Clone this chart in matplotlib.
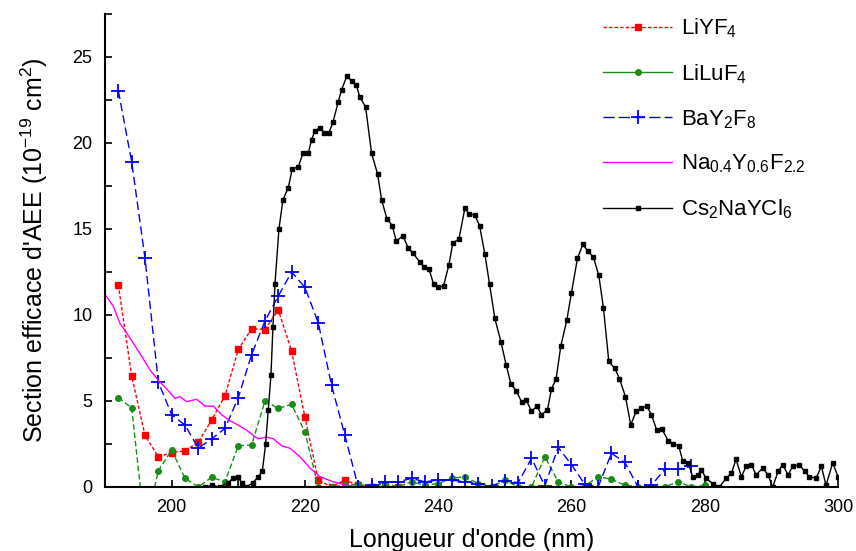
import numpy as np
import matplotlib
matplotlib.use("Agg")
import matplotlib.pyplot as plt
from matplotlib.ticker import MultipleLocator

plt.rcParams['font.family'] = ['Liberation Sans', 'DejaVu Sans']
plt.rcParams['mathtext.fontset'] = 'custom'
plt.rcParams['mathtext.rm'] = 'Liberation Sans'
plt.rcParams['mathtext.it'] = 'Liberation Sans'

# LiYF4 (red, squares)
liyf_x = [192, 194, 196, 198, 200, 202, 204, 206, 208, 210, 212, 214, 216, 218,
          220, 222, 224, 226, 228, 230, 232, 234]
liyf_y = [11.74, 6.45, 3.0, 1.76, 2.0, 2.1, 2.6, 3.9, 5.3, 8.0, 9.2, 9.15, 10.3, 7.9,
          4.05, 0.4, 0.0, 0.4, 0.1, 0.0, 0.05, 0.0]

# LiLuF4 (green, circles)
lilu_x = [192, 194, 196, 198, 200, 202, 204, 206, 208, 210, 212, 214, 216, 218,
          220, 222, 224, 226, 228, 230, 232, 234, 236, 238, 240, 242, 244, 246,
          248, 250, 252, 254, 256, 258, 260, 262, 264, 266, 268, 270, 272, 274,
          276, 278, 280]
lilu_y = [5.2, 4.6, -2.5, 0.95, 2.15, 0.5, 0.0, 0.56, 0.3, 2.4, 2.44, 5.0, 4.57, 4.8,
          3.2, 0.0, 0.0, 0.1, 0.17, 0.0, 0.2, 0.0, 0.3, 0.1, 0.2, 0.5, 0.6, 0.2,
          0.0, 0.4, 0.0, 0.0, 1.76, 0.3, 0.0, 0.05, 0.6, 0.45, 0.1, 0.0, 0.0, 0.0,
          0.3, 0.0, 0.1]

# BaY2F8 (blue, plus)
bay_x = [192, 194, 196, 198, 200, 202, 204, 206, 208, 210, 212, 214, 216, 218,
         220, 222, 224, 226, 228, 230, 232, 234, 236, 238, 240, 242, 244, 246,
         248, 250, 252, 254, 256, 258, 260, 262, 264, 266, 268, 270, 272, 274,
         276, 278]
bay_y = [23.04, 18.9, 13.3, 6.1, 4.2, 3.6, 2.25, 2.8, 3.4, 5.2, 7.7, 9.65, 11.1, 12.5,
         11.6, 9.55, 5.9, 3.0, 0.0, 0.1, 0.3, 0.3, 0.5, 0.3, 0.4, 0.4, 0.3, 0.2,
         0.06, 0.35, 0.25, 1.67, 0.06, 2.3, 1.3, 0.15, 0.0, 1.96, 1.43, 0.0, 0.1, 1.03,
         1.03, 1.2]

# Na0.4Y0.6F2.2 (magenta line)
na_x = [190.0, 191.25, 192.25, 193.0, 194.25, 195.5, 196.75, 198.0, 199.25, 200.5,
        201.25, 202.25, 203.75, 205.0, 206.25, 207.5, 208.75, 210.0, 211.25, 212.25,
        213.0, 214.25, 215.25, 216.5, 217.75, 219.25, 220.75, 222.25, 224.25, 226.25,
        228.25, 231.0, 235.0]
na_y = [11.2, 10.5, 9.5, 9.1, 8.35, 7.6, 6.8, 6.2, 5.7, 5.15,
        5.25, 4.96, 5.1, 4.7, 4.7, 4.2, 3.85, 3.6, 3.3, 3.0,
        2.8, 2.9, 2.8, 2.4, 2.25, 1.76, 1.1, 0.6, 0.3, 0.1,
        0.0, 0.0, 0.0]

# Cs2NaYCl6 (black, small squares)
cs_x = [205.0, 206.0, 207.2, 208.5, 209.2, 210.0, 210.5, 211.2, 212.2, 213.0, 213.6,
        214.1, 214.5, 214.9, 215.2, 215.5, 216.1, 216.7, 217.5, 218.1, 219.0, 219.7,
        220.5, 221.0, 221.5, 222.3, 222.9, 223.6, 224.2, 225.0, 225.5, 226.3, 227.0,
        227.7, 228.2, 229.1, 230.0, 230.9, 231.5, 232.3, 233.1, 233.7, 234.7, 235.5,
        236.2, 237.2, 237.9, 238.6, 239.3, 240.0, 240.8, 241.6, 242.2, 243.1, 244.0,
        244.6, 245.5, 246.2, 247.0, 247.7, 248.5, 249.4, 250.2, 250.9, 251.7, 252.5,
        253.2, 254.0, 254.8, 255.5, 256.4, 257.0, 257.7, 258.4, 259.3, 260.0, 260.9,
        261.7, 262.5, 263.3, 264.1, 264.8, 265.6, 266.5, 267.2, 268.1, 268.9, 269.7,
        270.5, 271.3, 272.0, 272.8, 273.6, 274.5, 275.3, 276.1, 276.7, 277.5, 278.2,
        279.0, 279.5, 280.2, 281.2, 282.2, 283.2, 284.0, 284.7, 285.5, 286.2, 287.0,
        287.7, 288.7, 289.5, 290.2, 291.0, 291.7, 292.5, 293.2, 294.2, 295.0, 295.7,
        296.7, 297.5, 298.2, 299.2, 300.0]
cs_y = [0.0, 0.1, 0.0, 0.25, 0.5, 0.56, 0.25, 0.0, 0.25, 0.6, 0.9,
        2.5, 4.5, 6.5, 9.3, 11.8, 15.0, 16.7, 17.4, 18.5, 18.6, 19.4,
        19.4, 20.2, 20.7, 20.9, 20.6, 20.6, 21.2, 22.4, 23.1, 23.9, 23.6,
        23.4, 22.7, 22.1, 19.4, 18.2, 16.7, 15.6, 15.2, 14.3, 14.6, 13.9,
        13.6, 13.1, 12.8, 12.7, 11.8, 11.6, 11.7, 12.9, 14.2, 14.4, 16.2,
        15.9, 15.8, 15.2, 13.55, 11.8, 9.8, 8.45, 7.1, 6.0, 5.6, 4.96,
        5.06, 4.4, 4.7, 4.2, 4.5, 5.7, 6.3, 8.2, 9.7, 11.3, 13.3,
        14.1, 13.7, 13.35, 12.3, 10.4, 7.3, 6.9, 6.3, 5.25, 3.6, 4.4,
        4.6, 4.7, 4.2, 3.3, 3.35, 2.7, 2.5, 2.4, 1.5, 1.4, 0.6,
        0.7, 1.0, 0.5, 0.2, 0.0, 0.5, 0.8, 1.6, 0.6, 1.2, 1.3,
        0.7, 1.1, 0.7, 0.0, 0.9, 1.3, 0.7, 1.2, 1.3, 0.9, 0.6,
        0.5, 1.2, 0.1, 1.4, 0.6]

fig = plt.figure(figsize=(8.56, 5.51), dpi=100)
ax = fig.add_axes([0.1227, 0.1162, 0.8563, 0.8584])

ax.plot(liyf_x, liyf_y, color='#ff0000', lw=1.0, ls=(0, (2.5, 1.5)),
        marker='s', ms=5, mec='#ff0000', label=r'LiYF$_4$')
ax.plot(lilu_x, lilu_y, color='#1a8c1a', lw=1.0, ls=(0, (4, 2)),
        marker='o', ms=4, mec='#1a8c1a', label=r'LiLuF$_4$')
ax.plot(bay_x, bay_y, color='#0000ff', lw=1.0, ls=(0, (6, 3)),
        marker='+', ms=10, mew=1.3, label=r'BaY$_2$F$_8$')
ax.plot(na_x, na_y, color='#ff00ff', lw=1.0, label=r'Na$_{0.4}$Y$_{0.6}$F$_{2.2}$')
ax.plot(cs_x, cs_y, color='black', lw=1.0, marker='s', ms=2.5,
        label=r'Cs$_2$NaYCl$_6$')

ax.set_xlim(190, 300)
ax.set_ylim(0, 27.5)
ax.xaxis.set_major_locator(MultipleLocator(20))
ax.xaxis.set_minor_locator(MultipleLocator(10))
ax.yaxis.set_major_locator(MultipleLocator(5))
ax.yaxis.set_minor_locator(MultipleLocator(2.5))
ax.tick_params(which='both', direction='in', length=5, width=1.2, labelsize=13)
ax.tick_params(axis='x', pad=9)
ax.tick_params(axis='y', pad=9)

for s in ['top', 'right']:
    ax.spines[s].set_visible(False)
for s in ['left', 'bottom']:
    ax.spines[s].set_linewidth(1.5)

ax.set_xlabel("Longueur d'onde (nm)", fontsize=18, labelpad=8)
ax.set_ylabel(r"Section efficace d'AEE (10$^{-19}$ cm$^2$)", fontsize=18, labelpad=16)

leg = ax.legend(loc='upper left', bbox_to_anchor=(0.68, 0.995), frameon=False,
                fontsize=16, numpoints=1, handlelength=3.1, handletextpad=0.4,
                labelspacing=1.0, borderaxespad=0, borderpad=0)
# legend handle for LiLuF4 is drawn solid in the original
leg.legend_handles[1].set_linestyle('-')
leg.legend_handles[2].set_linestyle((0, (8, 3)))

fig.savefig('out.png', dpi=100)
